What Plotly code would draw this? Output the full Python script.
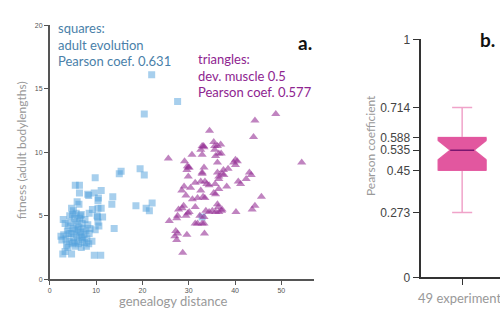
import plotly.graph_objects as go

# ---- data: squares (adult evolution) ----
sq_x = [22.0, 27.6, 20.4, 15.4, 15.0, 19.5, 20.4, 13.6, 13.4, 18.6, 22.1, 20.8, 21.5, 13.9, 32.9,
        9.8, 5.5, 6.4, 6.4, 8.2, 8.4, 9.6, 11.1, 10.5, 10.4,
        6.3, 5.9, 4.7, 5.1, 6.8, 8.5, 9.2, 10.4, 11.1, 10.3, 11.4, 10.2,
        2.9, 10.6, 9.8, 10.4, 9.1, 2.4, 2.8, 3.3, 4.7, 9.6, 11.0,
        3.0, 3.5, 3.8, 4.0, 4.2, 4.5, 4.6, 4.8, 5.0, 5.1, 5.3, 5.4, 5.5, 5.6, 5.8, 5.9, 6.0, 6.1,
        6.2, 6.3, 6.5, 6.6, 6.7, 6.8, 7.0, 7.1, 7.2, 7.4, 7.5, 7.6, 7.8, 8.0, 8.2, 8.4, 8.5, 8.7,
        3.3, 3.6, 4.3, 4.9, 5.7, 2.6, 3.9, 6.9, 5.2, 4.1, 6.4, 7.9]
sq_y = [16.1, 14.0, 13.0, 8.5, 8.3, 8.7, 8.2, 6.5, 5.9, 5.8, 6.0, 5.6, 5.4, 4.0, 4.9,
        8.0, 7.4, 7.4, 6.8, 6.7, 6.6, 6.8, 7.0, 6.4, 6.2,
        5.9, 6.1, 5.6, 5.4, 5.1, 5.2, 5.5, 5.6, 5.6, 4.9, 4.9, 5.0,
        4.7, 4.2, 3.9, 4.5, 3.0, 3.4, 2.0, 2.2, 2.0, 1.9, 1.9,
        3.5, 3.2, 3.8, 4.2, 3.0, 4.5, 3.6, 2.8, 4.0, 3.3, 4.8, 3.8, 2.6, 4.3, 3.5, 3.0, 4.6, 3.9,
        2.8, 4.1, 3.4, 5.0, 3.7, 2.5, 4.4, 3.1, 4.0, 3.5, 2.9, 4.7, 3.8, 3.2, 4.3, 2.8, 3.6, 4.0,
        4.4, 2.7, 5.0, 5.1, 5.2, 3.1, 2.5, 3.3, 2.9, 3.6, 4.8, 2.6]

# ---- data: triangles (dev. muscle 0.5) ----
tr_x = [48.8, 44.3, 44.0, 34.5, 54.4, 25.6,
        32.9, 33.3, 32.6, 35.4, 36.9, 35.6, 37.0,
        30.7, 32.9, 35.8, 29.1, 36.2, 40.1, 40.5, 39.7, 40.1,
        29.9, 29.6, 33.3, 37.5, 38.5, 37.2, 37.6, 43.1, 43.5,
        29.9, 32.9, 36.5, 40.7, 41.2, 42.4, 31.4, 32.6, 33.5,
        33.9, 34.4, 35.7, 38.2, 29.0, 28.5, 30.4, 32.6, 36.5,
        35.4, 35.8, 29.4, 31.9, 33.1, 33.5, 30.8, 45.7,
        36.2, 36.4, 28.9, 28.6, 31.4, 27.8, 44.3, 43.7, 37.2, 37.1,
        33.7, 34.4, 35.1, 35.8, 36.5, 40.2, 29.8, 29.4, 30.1, 27.6, 33.3, 32.4,
        25.8, 27.4, 31.4, 31.9, 33.3, 32.9,
        27.2, 27.6, 27.0, 27.4, 29.6, 33.4, 28.7,
        35.6, 36.2, 36.5, 29.7, 30.1, 32.9, 36.2, 36.5, 33.2]
tr_y = [13.0, 12.5, 11.2, 11.7, 9.2, 9.5,
        10.5, 10.4, 10.2, 10.8, 10.6, 10.2, 9.9,
        9.8, 9.8, 9.7, 9.3, 9.2, 9.4, 9.3, 9.2, 9.0,
        8.8, 8.6, 8.8, 8.6, 8.7, 8.3, 8.2, 8.4, 8.2,
        8.1, 8.3, 7.9, 7.7, 7.5, 7.9, 7.6, 7.7, 7.7,
        7.5, 7.4, 7.5, 7.3, 7.3, 7.0, 7.2, 7.0, 7.1,
        6.8, 6.7, 6.6, 6.4, 6.5, 6.4, 6.3, 6.5,
        5.9, 5.7, 5.8, 5.6, 5.7, 5.5, 5.8, 5.5, 5.5, 5.4,
        5.4, 5.3, 5.4, 5.3, 5.3, 5.3, 5.2, 5.0, 5.3, 5.0, 4.9, 5.0,
        4.6, 4.8, 4.4, 4.4, 4.4, 4.4,
        3.8, 3.6, 3.4, 3.1, 3.5, 3.6, 2.1,
        10.5, 10.5, 9.9, 8.9, 8.8, 8.4, 8.4, 8.1, 10.5]

# ---- data: box of Pearson coefficients (49 experiments) ----
box_label = "49 experiments"
box_lower = 0.273
box_q1 = 0.45
box_median = 0.535
box_q3 = 0.588
box_upper = 0.714
b_ticks = [0, 0.273, 0.45, 0.535, 0.588, 0.714, 1]
b_ticktext = ["0", "0.273", "0.45", "0.535", "0.588", "0.714", "1"]

W, H = 500, 315
def px_x(p): return p / W
def px_y(p): return (H - p) / H

BOX_X = 41
fig = go.Figure()

fig.add_trace(go.Scatter(x=sq_x, y=sq_y, mode="markers",
                         marker=dict(symbol="square", size=7, color="rgb(80,160,220)", opacity=0.5,
                                     line=dict(width=0)),
                         xaxis="x", yaxis="y", showlegend=False))
fig.add_trace(go.Scatter(x=tr_x, y=tr_y, mode="markers",
                         marker=dict(symbol="triangle-up", size=8, color="rgb(150,50,150)", opacity=0.6,
                                     line=dict(width=0)),
                         xaxis="x", yaxis="y", showlegend=False))

pink = "#e2579f"
# whiskers
fig.add_trace(go.Box(x=[BOX_X], q1=[box_q1], median=[box_median], q3=[box_q3],
                     lowerfence=[box_lower], upperfence=[box_upper],
                     notched=True, notchspan=[0.04], notchwidth=0.25, width=48, whiskerwidth=0.42,
                     fillcolor=pink, line=dict(color="#f0a3c9", width=1.5),
                     xaxis="x2", yaxis="y2", showlegend=False, boxpoints=False))
# box body
fig.add_trace(go.Box(x=[BOX_X], q1=[box_q1], median=[box_median], q3=[box_q3],
                     lowerfence=[box_q1], upperfence=[box_q3],
                     notched=True, notchspan=[0.04], notchwidth=0.25, width=48, whiskerwidth=0,
                     fillcolor=pink, line=dict(color=pink, width=1),
                     xaxis="x2", yaxis="y2", showlegend=False, boxpoints=False))
# median
fig.add_trace(go.Scatter(x=[BOX_X - 12, BOX_X + 12], y=[box_median, box_median], mode="lines",
                         line=dict(color="#7a1670", width=1.5),
                         xaxis="x2", yaxis="y2", showlegend=False))

small_tick = dict(family="Liberation Sans, Arial", size=7, color="#555")
fig.update_layout(
    width=W, height=H, margin=dict(l=0, r=0, t=0, b=0),
    paper_bgcolor="white", plot_bgcolor="white",
    xaxis=dict(domain=[px_x(48), px_x(313)], range=[0, 57], tickvals=[0, 10, 20, 30, 40, 50],
               showgrid=False, zeroline=False, showline=True, linecolor="#555", linewidth=1.5,
               ticks="outside", ticklen=4, tickcolor="#555", tickfont=small_tick, anchor="y"),
    yaxis=dict(domain=[px_y(285), px_y(19)], range=[0, 20], tickvals=[0, 5, 10, 15, 20],
               showgrid=False, zeroline=False, showline=True, linecolor="#555", linewidth=1.5,
               ticks="outside", ticklen=4, tickcolor="#555", tickfont=small_tick, anchor="x"),
    xaxis2=dict(domain=[px_x(421), 1], range=[0, 79], tickvals=[BOX_X], ticktext=[""],
                showgrid=False, zeroline=False, showline=True, linecolor="#333", linewidth=1.5,
                ticks="outside", ticklen=6, tickcolor="#333", anchor="y2"),
    yaxis2=dict(domain=[px_y(283), px_y(34)], range=[0, 1], tickvals=b_ticks, ticktext=b_ticktext,
                showgrid=False, zeroline=False, showline=True, linecolor="#333", linewidth=1.5,
                ticks="outside", ticklen=7, tickcolor="#333",
                tickfont=dict(family="Liberation Sans, Arial", size=12, color="#444"), anchor="x2"),
)

blue_t = "#4a7fa9"
purp_t = "#8e2490"
def ann(text, x, y, color, size=13, xanchor="left", bold=False, angle=0, family="Lato", xref="paper"):
    fig.add_annotation(text=("<b>%s</b>" % text) if bold else text,
                       x=px_x(x) if xref == "paper" else x, y=px_y(y),
                       xref=xref, yref="paper", xanchor=xanchor, yanchor="middle",
                       showarrow=False, textangle=angle,
                       font=dict(family=family, size=size, color=color))

ann("squares:", 54, 22, blue_t)
ann("adult evolution", 54, 40, blue_t)
ann("Pearson coef. 0.631", 54, 57, blue_t)
ann("triangles:", 195, 54, purp_t)
ann("dev. muscle 0.5", 195, 72, purp_t)
ann("Pearson coef. 0.577", 195, 89, purp_t)
ann("a.", 313, 37, "#111", size=19, xanchor="right", bold=True)
ann("b.", 497, 34, "#111", size=19, xanchor="right", bold=True)
ann("genealogy distance", 172, 308, "#999", size=13, xanchor="center")
ann("fitness (adult bodylengths)", 19, 150, "#999", size=12, xanchor="center", angle=-90)
ann("Pearson coefficient", 370, 145, "#999", size=12, xanchor="center", angle=-90)
ann(box_label, BOX_X, 305, "#999", size=13, xanchor="center", xref="x2")

fig.write_html("out.html", config={"displayModeBar": False},
               post_script="document.body.style.margin='0';document.body.style.padding='0';")
